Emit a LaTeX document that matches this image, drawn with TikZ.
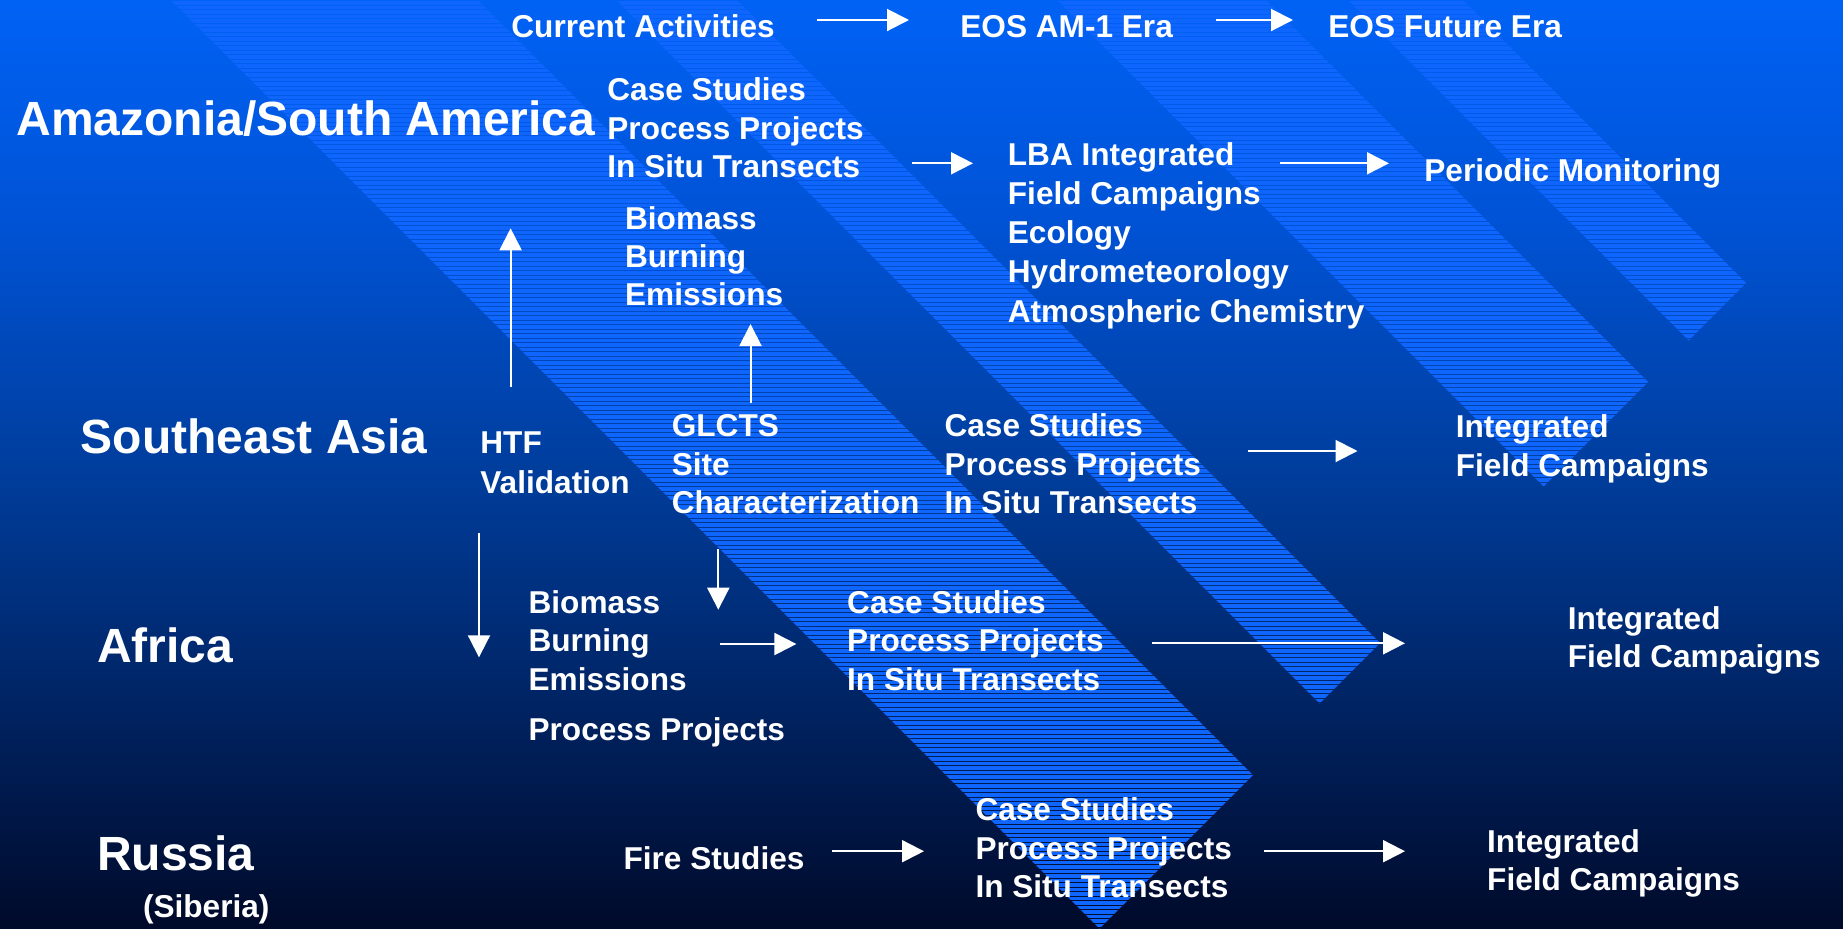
\documentclass[tikz,border=0pt]{standalone}
\usepackage{fontspec}
\setmainfont{Liberation Sans}
\usetikzlibrary{arrows.meta}
\definecolor{bgc0}{RGB}{0,98,245}
\definecolor{bgc1}{RGB}{0,82,212}
\definecolor{bgc2}{RGB}{0,62,158}
\definecolor{bgc3}{RGB}{0,36,100}
\definecolor{bgc4}{RGB}{0,10,42}
\definecolor{bandblue}{RGB}{15,102,255}
\pgfdeclareverticalshading{bgshade}{100bp}{color(0bp)=(bgc4); color(25bp)=(bgc4); color(37.3bp)=(bgc3); color(50bp)=(bgc2); color(62.6bp)=(bgc1); color(75bp)=(bgc0); color(100bp)=(bgc0)}
\tikzset{
  txt/.style={text=white, font=\fontsize{15.8}{19}\selectfont\bfseries, inner sep=0pt, anchor=base west},
  bigtxt/.style={txt, font=\fontsize{24}{29}\selectfont\bfseries},
  arr/.style={draw=white, line width=1pt, -{Triangle[length=11pt,width=11pt]}},
  bandline/.style={draw=bandblue, line width=1.75pt}
}
\begin{document}
\begin{tikzpicture}[x=0.5pt,y=-0.5pt]
\useasboundingbox (0,0) rectangle (1843,928);
\shade[shading=bgshade] (0,0) rectangle (1843,928);
% hatched diagonal bands
\begin{scope}
\clip (151,-20) -- (458,-20) -- (1253,775) -- (1099.5,928.5) -- cycle
      (596,-20) -- (717,-20) -- (1380,643) -- (1319.5,703.5) -- cycle
      (1037,-20) -- (1246,-20) -- (1648,382) -- (1543.5,486.5) -- cycle
      (1328,-20) -- (1443,-20) -- (1746,283) -- (1688.5,340.5) -- cycle;
\foreach \k in {0,...,207} \draw[bandline] (0,{\k*4.5+2.9}) -- (1843,{\k*4.5+2.9});
\end{scope}
% header
\node[txt] (curact) at (511,37) {Current Activities};
\node[txt] (eosam) at (960,37) {EOS AM-1 Era};
\node[txt] (eosf) at (1328,37) {EOS Future Era};
% Amazonia
\node[bigtxt] (amaz) at (16,135) {Amazonia/South America};
\node[txt] (csa1) at (607,100.7) {Case Studies};
\node[txt] (csa2) at (607,139.3) {Process Projects};
\node[txt] (csa3) at (607,177.3) {In Situ Transects};
\node[txt] (lba1) at (1007.5,165.7) {LBA Integrated};
\node[txt] (lba2) at (1007.5,204.5) {Field Campaigns};
\node[txt] (lba3) at (1007.5,243.3) {Ecology};
\node[txt] (lba4) at (1007.5,282.7) {Hydrometeorology};
\node[txt] (lba5) at (1007.5,322) {Atmospheric Chemistry};
\node[txt] (per) at (1424,181.7) {Periodic Monitoring};
\node[txt] (bioa1) at (624.7,229.3) {Biomass};
\node[txt] (bioa2) at (624.7,267.3) {Burning};
\node[txt] (bioa3) at (624.7,305) {Emissions};
% Southeast Asia
\node[bigtxt] (sea) at (80.4,453.3) {Southeast Asia};
\node[txt] (htf1) at (480,453.3) {HTF};
\node[txt] (htf2) at (480,493.3) {Validation};
\node[txt] (gl1) at (671.4,436.7) {GLCTS};
\node[txt] (gl2) at (671.4,475.7) {Site};
\node[txt] (gl3) at (671.4,513) {Characterization};
\node[txt] (css1) at (944.2,436.7) {Case Studies};
\node[txt] (css2) at (944.2,475.7) {Process Projects};
\node[txt] (css3) at (944.2,513.3) {In Situ Transects};
\node[txt] (ints1) at (1455.4,437.7) {Integrated};
\node[txt] (ints2) at (1455.4,476) {Field Campaigns};
% Africa
\node[bigtxt] (afr) at (96.8,662.3) {Africa};
\node[txt] (bf1) at (528.2,613) {Biomass};
\node[txt] (bf2) at (528.2,651.3) {Burning};
\node[txt] (bf3) at (528.2,690) {Emissions};
\node[txt] (bf4) at (528.2,740.7) {Process Projects};
\node[txt] (csf1) at (846.8,613) {Case Studies};
\node[txt] (csf2) at (846.8,651.3) {Process Projects};
\node[txt] (csf3) at (846.8,690) {In Situ Transects};
\node[txt] (intf1) at (1567.4,629) {Integrated};
\node[txt] (intf2) at (1567.4,667.3) {Field Campaigns};
% Russia
\node[bigtxt] (rus) at (96.8,870.7) {Russia};
\node[txt] (sib) at (142.6,917) {(Siberia)};
\node[txt] (fire) at (623.2,869) {Fire Studies};
\node[txt] (csr1) at (975.1,820) {Case Studies};
\node[txt] (csr2) at (975.1,859) {Process Projects};
\node[txt] (csr3) at (975.1,897.3) {In Situ Transects};
\node[txt] (intr1) at (1486.8,852.3) {Integrated};
\node[txt] (intr2) at (1486.8,890.7) {Field Campaigns};
% connector end points
\coordinate (a1s) at (817,20);    \coordinate (a1e) at (909,20);
\coordinate (a2s) at (1216,20);   \coordinate (a2e) at (1293,20);
\coordinate (a3s) at (912,163.3); \coordinate (a3e) at (973,163.3);
\coordinate (a4s) at (1280,163.3);\coordinate (a4e) at (1389,163.3);
\coordinate (u1s) at (510.6,387); \coordinate (u1e) at (510.6,228.3);
\coordinate (u2s) at (750.5,403); \coordinate (u2e) at (750.5,324);
\coordinate (a5s) at (1248,451);  \coordinate (a5e) at (1357.5,451);
\coordinate (d1s) at (479,533);   \coordinate (d1e) at (479,657.3);
\coordinate (d2s) at (718.3,549); \coordinate (d2e) at (718.3,609.7);
\coordinate (a6s) at (720,644);   \coordinate (a6e) at (796.4,644);
\coordinate (a7s) at (1152,643.3);\coordinate (a7e) at (1405,643.3);
\coordinate (a8s) at (832,851.2); \coordinate (a8e) at (924,851.2);
\coordinate (a9s) at (1264,851.2);\coordinate (a9e) at (1405,851.2);
\draw[arr] (a1s) -- (a1e);
\draw[arr] (a2s) -- (a2e);
\draw[arr] (a3s) -- (a3e);
\draw[arr] (a4s) -- (a4e);
\draw[arr] (u1s) -- (u1e);
\draw[arr] (u2s) -- (u2e);
\draw[arr] (a5s) -- (a5e);
\draw[arr] (d1s) -- (d1e);
\draw[arr] (d2s) -- (d2e);
\draw[arr] (a6s) -- (a6e);
\draw[arr] (a7s) -- (a7e);
\draw[arr] (a8s) -- (a8e);
\draw[arr] (a9s) -- (a9e);
\end{tikzpicture}
\end{document}
